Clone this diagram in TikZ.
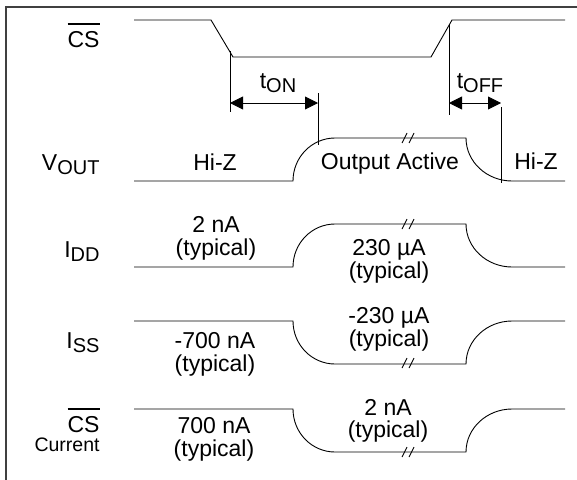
\documentclass[tikz,border=0pt]{standalone}
\usepackage{fontspec}
\setmainfont{Liberation Sans}
\usetikzlibrary{arrows.meta}
\newcommand\lowsub[1]{\raisebox{-4.5pt}{\fontsize{20pt}{22pt}\selectfont #1}}
\newcommand\barred[1]{\setbox0\hbox{#1}\rlap{\rule[22.5pt]{\wd0}{1.3pt}}\box0}
\tikzset{
lbl/.style={font=\fontsize{23pt}{27pt}\selectfont, inner sep=0pt, anchor=base},
signame/.style={lbl, anchor=base east},
timing/.style={{Triangle[length=13pt,width=13pt]}-{Triangle[length=13pt,width=13pt]}},
pulse/.pic={
  \draw (0,0) -- (159,0) .. controls (159,-24) and (178,-43) .. (201,-43) -- (332,-43)
    .. controls (332,-19) and (353,0) .. (378,0) -- (431,0);
  },
brk/.pic={
  \draw (-6,5) -- (-1,-5) (1,5) -- (6,-5);
  }
}
\begin{document}
\begin{tikzpicture}[x=1pt, y=-1pt, line width=0.9pt]
\useasboundingbox (0,0) rectangle (577,479);
\draw[black!75, line width=1.2pt] (6,485) -- (6,7) -- (585,7);

\draw (134,20) -- (211,20) -- (233,57) -- (431,57) -- (452,20) -- (565,20);
\pic at (134,181) {pulse};
\pic at (134,267) {pulse};
\pic[yscale=-1] at (134,321) {pulse};
\pic[yscale=-1] at (134,409) {pulse};
\pic at (408,138) {brk};
\pic at (408,224) {brk};
\pic at (408,363) {brk};
\pic at (408,452) {brk};

\coordinate (onTop) at (230,51);
\coordinate (onBot) at (230,112);
\coordinate (onA) at (230,103);
\coordinate (onB) at (318,103);
\coordinate (onEnd) at (318,93);
\coordinate (onOut) at (318,145);
\coordinate (offTop) at (449,25);
\coordinate (offBot) at (449,115);
\coordinate (offA) at (449,103);
\coordinate (offB) at (501,103);
\coordinate (offEnd) at (501,107);
\coordinate (offOut) at (501,183);
\draw (onTop) -- (onBot);
\draw (onEnd) -- (onOut);
\draw (offTop) -- (offBot);
\draw (offEnd) -- (offOut);
\draw[timing] (onA) -- (onB);
\draw[timing] (offA) -- (offB);
\node[lbl] (ton) at (278,88) {t\lowsub{ON}};
\node[lbl] (toff) at (480,88) {t\lowsub{OFF}};

\node[signame] (csName) at (100,47) {\barred{CS}};
\node[signame] (voutName) at (100,170) {V\lowsub{OUT}};
\node[signame] (iddName) at (100,257) {I\lowsub{DD}};
\node[signame] (issName) at (100,348) {I\lowsub{SS}};
\node[signame] (cscName) at (100,432) {\barred{CS}};
\node[signame] (cscName2) at (100,451) {\fontsize{19.5pt}{22pt}\selectfont Current};

\node[lbl] (hizA) at (215,170) {Hi-Z};
\node[lbl] (active) at (390,169) {Output Active};
\node[lbl] (hizB) at (536,169) {Hi-Z};
\node[lbl] (iddLo) at (216,232) {2 nA};
\node[lbl] (iddLoT) at (216,255) {(typical)};
\node[lbl] (iddHi) at (389,255) {230 µA};
\node[lbl] (iddHiT) at (389,278) {(typical)};
\node[lbl] (issLo) at (215,348) {-700 nA};
\node[lbl] (issLoT) at (215,371) {(typical)};
\node[lbl] (issHi) at (389,323) {-230 µA};
\node[lbl] (issHiT) at (389,346) {(typical)};
\node[lbl] (cscLo) at (214,433) {700 nA};
\node[lbl] (cscLoT) at (214,456) {(typical)};
\node[lbl] (cscHi) at (388,415) {2 nA};
\node[lbl] (cscHiT) at (388,437) {(typical)};

\end{tikzpicture}
\end{document}
